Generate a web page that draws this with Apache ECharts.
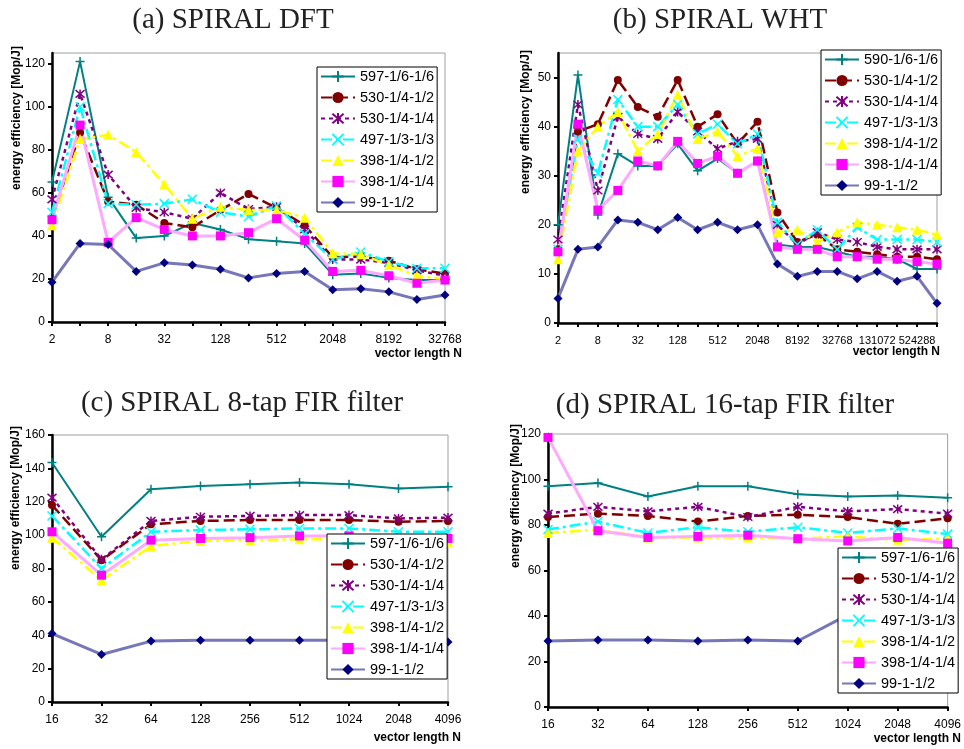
<!DOCTYPE html>
<html>
<head>
<meta charset="utf-8">
<script src="https://cdn.jsdelivr.net/npm/echarts@6/dist/echarts.min.js"></script>
<style>
  html, body { margin: 0; padding: 0; background: #fff; }
  #main { width: 964px; height: 749px; }
</style>
</head>
<body>
<div id="main"></div>
<script>
// categories
var catA = ['2','4','8','16','32','64','128','256','512','1024','2048','4096','8192','16384','32768'];
var catB = ['2','4','8','16','32','64','128','256','512','1024','2048','4096','8192','16384','32768',
            '65536','131072','262144','524288','1048576'];
var catFir = ['16','32','64','128','256','512','1024','2048','4096'];

// series names
var namesA = ['597-1/6-1/6','530-1/4-1/2','530-1/4-1/4','497-1/3-1/3','398-1/4-1/2','398-1/4-1/4','99-1-1/2'];
var namesB = ['590-1/6-1/6','530-1/4-1/2','530-1/4-1/4','497-1/3-1/3','398-1/4-1/2','398-1/4-1/4','99-1-1/2'];

// (a) SPIRAL DFT
var dft597  = [65,121,58,39,40,46,43,38.5,37.5,36.5,22,22.5,20.5,19.5,19.5];
var dft530h = [48,88,56,54.5,46,44,52,59.5,53,45,30,30.5,28.5,24.5,22.5];
var dft530q = [57,106,68.5,53,51,48,60,52.5,53.5,43,29,29,27.5,24,21.5];
var dft497  = [51,100,55,54.5,55,57,51,49,54,41,29,32.5,28,25,25];
var dft398h = [45,85,87,79,64,48,53.5,52,52,48.5,32,31.5,26.5,21.5,20];
var dft398q = [47.5,91.5,37,48.5,43,40,40,41.5,48,38,23.5,24,21.5,18,19.5];
var dft99   = [18.5,36.5,36,23.5,27.5,26.5,24.5,20.5,22.5,23.5,15,15.5,14,10.5,12.5];

// (b) SPIRAL WHT
var wht590  = [20,50.5,22,34.5,32,32,36.5,31,33.5,30.5,33,16,15.5,15.5,14.5,13.5,13.5,13,11,11];
var wht530h = [15,39,40.5,49.5,44,42,49.5,40,42.5,36.5,41,22.5,16.5,18,15,14.5,14,13.5,13.5,13];
var wht530q = [17,44.5,27,42,38.5,37.5,43,39,35.5,37,37.5,20,16,18.5,17,16.5,15.5,15,15,15];
var wht497  = [15,37.5,30.5,45.5,40,40,44.5,38.5,40.5,36.5,38.5,20.5,16,19,15,19.5,17,17,17,16.5];
var wht398h = [13,35,40,43,35,38.5,46.5,37.5,39,34,35.5,18.5,19,16.5,18.5,20.5,20,19.5,19,18];
var wht398q = [14.5,40.5,23,27,33,32,37,32.5,34,30.5,33,15.5,15,15,13.5,13.5,13,13,12.5,12];
var wht99   = [5,15,15.5,21,20.5,19,21.5,19,20.5,19,20,12,9.5,10.5,10.5,9,10.5,8.5,9.5,4];

// (c) SPIRAL 8-tap FIR filter
var fir8_597  = [143.5,99,127.5,129.5,130.5,131.5,130.5,128,129];
var fir8_530h = [118,85,106.5,108.5,109,109,109,108,108.5];
var fir8_530q = [122.5,85.5,108.5,111,111.5,112,112,110,110.5];
var fir8_497  = [111.5,80,102,103,103.5,104,104,102,102];
var fir8_398h = [98.5,73,93.5,96.5,97,97.5,97.5,96,96];
var fir8_398q = [102,76,97,98,98.5,99.5,99.5,98,98];
var fir8_99   = [41,28.5,36.5,37,37,37,37,37,36];

// (d) SPIRAL 16-tap FIR filter
var fir16_597  = [97,98.5,92.5,97,97,93.5,92.5,93,92];
var fir16_530h = [83.5,85,84,81.5,84,84.5,83.5,80.5,83];
var fir16_530q = [85,88,86,88,83.5,88,86,87,85];
var fir16_497  = [78,81.5,76.5,79,77,79,76.5,78.5,76];
var fir16_398h = [76.5,78,74.5,74.5,74.5,74,75,73.5,74];
var fir16_398q = [118.5,77.5,74.5,75,75.5,74,73,74.5,72];
var fir16_99   = [29,29.5,29.5,29,29.5,29,40.5,41,41.5];

var plusPath = 'path://M5,0L5,10M0,5L10,5';
var crossPath = 'path://M0,0L10,10M10,0L0,10';
var starPath = 'path://M0,1L10,11M10,1L0,11M5,0L5,12';

// one style per series position, same in every panel
var looks = [
  {mark:'#008080', line:'#008080', dash:'solid', w:2, symbol:plusPath, size:9, bw:1.5},
  {mark:'#800000', line:'#800000', dash:[11,5], w:2.5, symbol:'circle', size:8, bw:0},
  {mark:'#800080', line:'#800080', dash:[4,4], w:2.5, symbol:starPath, size:9, bw:1.5},
  {mark:'#00ffff', line:'#00ffff', dash:[11,4,3,4], w:2.5, symbol:crossPath, size:9, bw:1.5},
  {mark:'#ffff00', line:'#ffff00', dash:[11,4,3,4], w:2.5, symbol:'triangle', size:10, bw:0},
  {mark:'#ff00ff', line:'#ffa8ff', dash:'solid', w:3, symbol:'rect', size:9, bw:0},
  {mark:'#000080', line:'#7676b8', dash:'solid', w:3, symbol:'diamond', size:9, bw:0}
];

var font = 'Liberation Sans, Arial, sans-serif';

function makeSeries(names, arrays, idx) {
  return arrays.map(function (d, i) {
    var lk = looks[i];
    return {
      name: names[i], type: 'line', xAxisIndex: idx, yAxisIndex: idx,
      data: d, symbol: lk.symbol, symbolSize: lk.size,
      itemStyle: {color: lk.mark, borderColor: lk.mark, borderWidth: lk.bw},
      lineStyle: {color: lk.line, width: lk.w, type: lk.dash}
    };
  });
}

function makeGrid(l, r, t, b) {
  return {left: l, width: r - l, top: t, height: b - t, show: true,
          borderColor: '#a0a0a0', borderWidth: 1, backgroundColor: 'transparent'};
}

function makeX(cats, idx, every, fs) {
  return {
    type: 'category', gridIndex: idx, data: cats, boundaryGap: false,
    axisLine: {lineStyle: {color: '#000', width: 2.5}},
    axisTick: {show: true, interval: 0, length: 4, lineStyle: {color: '#000', width: 2}},
    axisLabel: {interval: every, margin: 12, fontSize: fs, fontFamily: font, color: '#000'},
    splitLine: {show: false}
  };
}

function makeY(max, step, idx) {
  return {
    type: 'value', gridIndex: idx, min: 0, max: max, interval: step,
    axisLine: {show: true, lineStyle: {color: '#000', width: 2.5}},
    axisTick: {show: true, length: 4, lineStyle: {color: '#000', width: 2}},
    axisLabel: {margin: 7, fontSize: 12, fontFamily: font, color: '#000', showMaxLabel: max % step === 0},
    splitLine: {show: false}
  };
}

function makeLegend(names, l, t) {
  return {
    orient: 'vertical', left: l, top: t, data: names, selectedMode: false, z: 30,
    padding: [2, 3, 2, 3], itemGap: 6, itemWidth: 34, itemHeight: 14,
    backgroundColor: '#fff', borderColor: '#000', borderWidth: 1,
    textStyle: {fontSize: 14.5, fontFamily: font, color: '#000'}
  };
}

function title(txt, x, y) {
  return {type: 'text', x: x, y: y, z: 100,
          style: {text: txt, font: '29px "Liberation Serif", "Times New Roman", serif',
                  fill: '#222', textAlign: 'center', textVerticalAlign: 'middle'}};
}
function yName(x, y) {
  return {type: 'text', x: x, y: y, rotation: Math.PI / 2, z: 100,
          style: {text: 'energy efficiency [Mop/J]', font: 'bold 12px "Liberation Sans", Arial, sans-serif',
                  fill: '#000', textAlign: 'center', textVerticalAlign: 'middle'}};
}
function xName(x, y) {
  return {type: 'text', x: x, y: y, z: 100,
          style: {text: 'vector length N', font: 'bold 12px "Liberation Sans", Arial, sans-serif',
                  fill: '#000', textAlign: 'right', textVerticalAlign: 'middle'}};
}

var chart = echarts.init(document.getElementById('main'), null, {renderer: 'canvas'});

chart.setOption({
  animation: false,
  backgroundColor: '#fff',
  grid: [
    makeGrid(52, 445, 53, 322),
    makeGrid(558, 937, 53, 323),
    makeGrid(52, 448, 435, 702),
    makeGrid(548, 950, 434, 707)
  ],
  xAxis: [makeX(catA, 0, 1, 12), makeX(catB, 1, 1, 11), makeX(catFir, 2, 0, 12), makeX(catFir, 3, 0, 12)],
  yAxis: [makeY(125, 20, 0), makeY(55, 10, 1), makeY(160, 20, 2), makeY(120, 20, 3)],
  legend: [
    makeLegend(namesA, 317, 67),
    makeLegend(namesB, 821, 50),
    makeLegend(namesA, 327, 534),
    makeLegend(namesA, 838, 548)
  ],
  graphic: [
    title('(a) SPIRAL DFT', 233, 20),
    title('(b) SPIRAL WHT', 720, 20),
    title('(c) SPIRAL 8-tap FIR filter', 242, 403),
    title('(d) SPIRAL 16-tap FIR filter', 725, 405),
    yName(17, 118), yName(526, 122), yName(16, 498), yName(516, 496),
    xName(462, 354), xName(940, 352), xName(461, 738), xName(961, 739)
  ],
  series: [].concat(
    makeSeries(namesA, [dft597, dft530h, dft530q, dft497, dft398h, dft398q, dft99], 0),
    makeSeries(namesB, [wht590, wht530h, wht530q, wht497, wht398h, wht398q, wht99], 1),
    makeSeries(namesA, [fir8_597, fir8_530h, fir8_530q, fir8_497, fir8_398h, fir8_398q, fir8_99], 2),
    makeSeries(namesA, [fir16_597, fir16_530h, fir16_530q, fir16_497, fir16_398h, fir16_398q, fir16_99], 3)
  )
});
</script>
</body>
</html>
